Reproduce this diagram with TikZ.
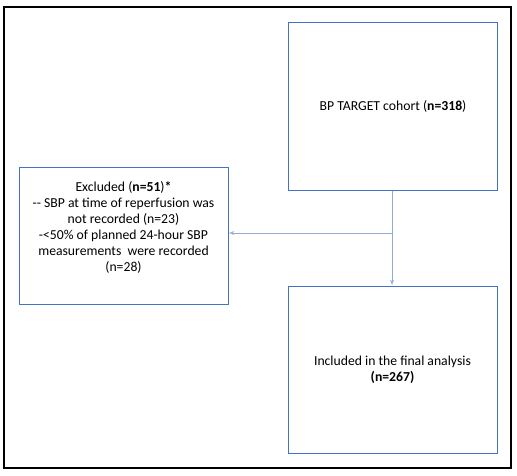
\documentclass[tikz,border=0pt]{standalone}
\usepackage{fontspec}
\setmainfont{Carlito}
\usepackage{tikz}
\usetikzlibrary{arrows, calc}
\definecolor{boxblue}{RGB}{68,114,196}
\definecolor{lineblue}{RGB}{143,170,220}
\tikzstyle{block} = [rectangle, draw=boxblue, line width=1pt,
    text centered, minimum width=209pt, minimum height=167pt]
\tikzstyle{label} = [align=center, font=\fontsize{13.7}{16}\selectfont]
\tikzstyle{arrow} = [draw=lineblue, line width=0.9pt, -latex']

\begin{document}
\begin{tikzpicture}[x=1pt, y=1pt]
    \useasboundingbox (0,0) rectangle (517,475);
    % Frame
    \draw [line width=1.6pt] (4,468) rectangle (511,7);

    % Nodes
    \node [block, label] (cohort) at (393,368.5) {BP TARGET cohort (\textbf{n=318})};
    \node [block, label] (final) at (392.5,105.5) {Included in the final analysis\\\textbf{(n=267)}};
    \node [block, minimum height=137pt] (excl) at (123.5,239.5) {};
    \node [label] (excltext) at ($(excl)+(0,8)$) {Excluded (\textbf{n=51})\textbf{*}\\
        {-}{-} SBP at time of reperfusion was\\
        not recorded (n=23)\\
        -<50\% of planned 24-hour SBP\\
        measurements\ \ were recorded\\
        (n=28)};
    \coordinate (split) at (392,242);

    % Arrows
    \draw [arrow] (cohort.south -| split) -- (final.north -| split);
    \draw [arrow] (split) -- (excl.east |- split);
\end{tikzpicture}
\end{document}
